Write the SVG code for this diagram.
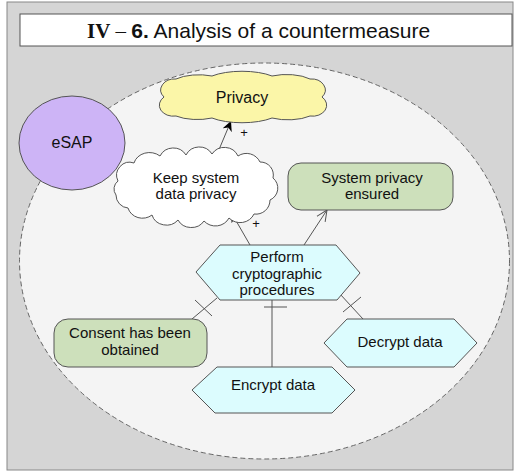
<svg xmlns="http://www.w3.org/2000/svg" width="515" height="472" viewBox="0 0 515 472">
<defs>
<style>
text{font-family:"Liberation Sans",Arial,sans-serif;fill:#111;}
.lbl{font-size:15px;text-anchor:middle;}
.shape{stroke:#555;stroke-width:1;}
.conn{stroke:#555;stroke-width:1;fill:none;}
.plus{font-size:13px;text-anchor:middle;}
</style>
<marker id="filled" viewBox="0 0 10 10" refX="10" refY="5" markerWidth="10" markerHeight="10" markerUnits="userSpaceOnUse" orient="auto">
<path d="M0,0 L10,5 L0,10 L3,5 Z" fill="#000"/>
</marker>
<marker id="open" viewBox="0 0 12 12" refX="11" refY="6" markerWidth="12" markerHeight="12" markerUnits="userSpaceOnUse" orient="auto">
<path d="M0,1 L11,6 L0,11" fill="none" stroke="#555" stroke-width="1"/>
</marker>
</defs>
<rect x="7" y="2" width="506" height="468" fill="#d5d5d5" stroke="#888"/>
<g id="title">
<rect x="20" y="14" width="492" height="32" fill="#fff" stroke="#555"/>
<text x="87" y="38" font-size="21"><tspan font-family="'Liberation Serif',serif" font-weight="bold">IV</tspan><tspan font-family="'Liberation Serif',serif"> – </tspan><tspan font-weight="bold">6.</tspan> Analysis of a countermeasure</text>
</g>
<g id="boundary">
<ellipse cx="264.5" cy="261" rx="245" ry="198" fill="#f4f4f4" stroke="#666" stroke-dasharray="5,3"/>
</g>
<g id="connectors">
<line class="conn" x1="218" y1="152" x2="231" y2="121" marker-end="url(#filled)"/>
<line class="conn" x1="250" y1="245" x2="231" y2="212" marker-end="url(#filled)"/>
<line class="conn" x1="304" y1="245" x2="327" y2="210" marker-end="url(#open)"/>
<line class="conn" x1="217" y1="298" x2="192" y2="319"/>
<line class="conn" x1="195" y1="300" x2="212" y2="316"/>
<line class="conn" x1="272" y1="300" x2="272" y2="367"/>
<line class="conn" x1="264" y1="307" x2="287" y2="307"/>
<line class="conn" x1="340" y1="294" x2="363" y2="319"/>
<line class="conn" x1="343" y1="312" x2="361" y2="297"/>
<text class="plus" x="244" y="137">+</text>
<text class="plus" x="256" y="228">+</text>
</g>
<g id="esap">
<ellipse class="shape" cx="72" cy="143" rx="53" ry="47" fill="#cdb4f6" stroke="#444"/>
<text x="72" y="148" font-size="16" text-anchor="middle">eSAP</text>
</g>
<g id="privacy">
<path class="shape" fill="#fbf6a8" d="M164,97 A14,11 0 0 1 176,79 A30,12 0 0 1 212,76 A40,14 0 0 1 272,76 A30,12 0 0 1 310,79 A14,11 0 0 1 322,97 A14,11 0 0 1 310,116 A30,12 0 0 1 272,118 A40,14 0 0 1 212,118 A30,12 0 0 1 176,116 A14,11 0 0 1 164,97 Z"/>
<text x="242" y="103" font-size="16" text-anchor="middle">Privacy</text>
</g>
<g id="keep">
<path class="shape" fill="#fff" d="M118,181 A13,13 0 0 1 134,163 A16,14 0 0 1 160,156 A15,15 0 0 1 186,155 A15,15 0 0 1 212,154 A15,15 0 0 1 238,156 A15,15 0 0 1 260,162 A13,13 0 0 1 273,178 A13,13 0 0 1 270,200 A14,14 0 0 1 254,214 A15,14 0 0 1 229,218 A15,14 0 0 1 204,221 A15,14 0 0 1 178,220 A15,14 0 0 1 152,215 A15,14 0 0 1 128,208 A13,13 0 0 1 116,195 A10,10 0 0 1 118,181 Z"/>
<text class="lbl" x="196" y="183">Keep system</text>
<text class="lbl" x="196" y="199">data privacy</text>
</g>
<g id="ensured">
<rect class="shape" x="288" y="163" width="165" height="47" rx="13" fill="#cde0bb"/>
<text class="lbl" x="372" y="183">System privacy</text>
<text class="lbl" x="372" y="199">ensured</text>
</g>
<g id="perform">
<polygon class="shape" points="196,272 220,245 336,245 360,273 337,300 220,300" fill="#dcfcfe"/>
<text class="lbl" x="277" y="262">Perform</text>
<text class="lbl" x="277" y="279">cryptographic</text>
<text class="lbl" x="277" y="295">procedures</text>
</g>
<g id="consent">
<rect class="shape" x="54" y="319" width="153" height="48" rx="14" fill="#cde0bb"/>
<text class="lbl" x="130" y="338">Consent has been</text>
<text class="lbl" x="130" y="355">obtained</text>
</g>
<g id="encrypt">
<polygon class="shape" points="192,390 217,367 332,367 355,390 332,413 215,413" fill="#dcfcfe"/>
<text class="lbl" x="273" y="390">Encrypt data</text>
</g>
<g id="decrypt">
<polygon class="shape" points="324,343 347,319 454,319 477,343 454,367 347,367" fill="#dcfcfe"/>
<text class="lbl" x="400" y="347">Decrypt data</text>
</g>
</svg>
